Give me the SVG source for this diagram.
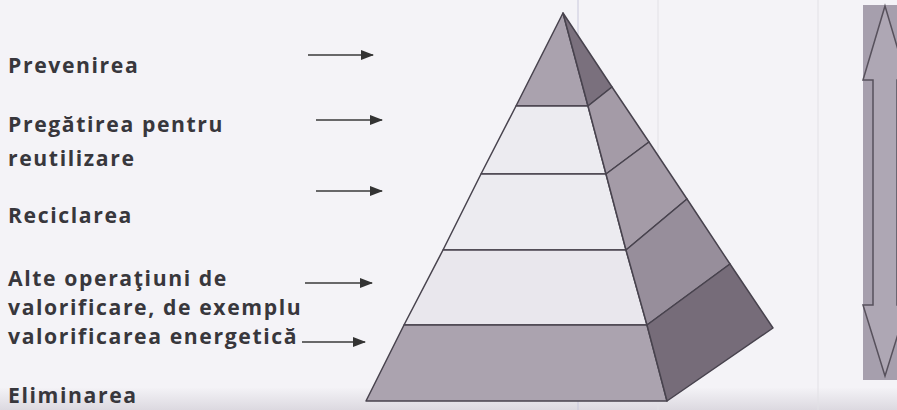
<svg xmlns="http://www.w3.org/2000/svg" width="897" height="410" viewBox="0 0 897 410">
<defs>
<linearGradient id="bottomBand" x1="0" y1="0" x2="0" y2="1">
<stop offset="0" stop-color="#f3f2f6"/>
<stop offset="1" stop-color="#dcd9e0"/>
</linearGradient>
<marker id="head" markerWidth="13" markerHeight="10" refX="12" refY="5" orient="auto" markerUnits="userSpaceOnUse">
<path d="M0,0 L13,5 L0,10 Z" fill="#333"/>
</marker>
<style>
.lbl{font-family:"Open Sans",Lato,"Liberation Sans",sans-serif;font-weight:bold;font-size:21.2px;letter-spacing:1.6px;fill:#38373c}
.face{stroke:#48434e;stroke-width:1.5;stroke-linejoin:round}
.conn{stroke:#3a3a3a;stroke-width:1.6;fill:none;marker-end:url(#head)}
.scan{stroke-width:1;fill:none}
</style>
</defs>
<rect x="0" y="0" width="897" height="410" fill="#f4f3f7"/>
<rect x="0" y="388" width="897" height="22" fill="url(#bottomBand)"/>
<line class="scan" x1="578" y1="0" x2="578" y2="410" stroke="#c9c8dc"/>
<line class="scan" x1="658" y1="0" x2="658" y2="410" stroke="#e2e1e6"/>
<line class="scan" x1="818" y1="0" x2="818" y2="410" stroke="#e2e1e6"/>

<g id="labels">
<text class="lbl" x="8" y="73">Prevenirea</text>
<text class="lbl" x="8" y="132">Pregătirea pentru</text>
<text class="lbl" x="8" y="166">reutilizare</text>
<text class="lbl" x="8" y="223">Reciclarea</text>
<text class="lbl" x="8" y="286">Alte operaţiuni de</text>
<text class="lbl" x="8" y="315">valorificare, de exemplu</text>
<text class="lbl" x="8" y="344">valorificarea energetică</text>
<text class="lbl" x="8" y="403">Eliminarea</text>
</g>

<g id="pyramid">
<g id="layer1">
<polygon class="face" points="563,13 516,106 588,106" fill="#aaa2ae"/>
<polygon class="face" points="563,13 612,87 588,106" fill="#7a707d"/>
</g>
<g id="layer2">
<polygon class="face" points="516,106 588,106 606,174 481,174" fill="#ecebf0"/>
<polygon class="face" points="588,106 612,87 649,142 606,174" fill="#a49ba7"/>
</g>
<g id="layer3">
<polygon class="face" points="481,174 606,174 626,250 443,250" fill="#ecebf0"/>
<polygon class="face" points="606,174 649,142 687,199 626,250" fill="#a49ba7"/>
</g>
<g id="layer4">
<polygon class="face" points="443,250 626,250 647,325 404,325" fill="#e9e7ed"/>
<polygon class="face" points="626,250 687,199 730,264 647,325" fill="#978e9b"/>
</g>
<g id="layer5">
<polygon class="face" points="404,325 647,325 667,401 366,401" fill="#aba3af"/>
<polygon class="face" points="647,325 730,264 773,328 667,401" fill="#766c79"/>
</g>
</g>

<g id="connectors">
<line class="conn" x1="308" y1="55" x2="373" y2="55"/>
<line class="conn" x1="316" y1="120" x2="382" y2="120"/>
<line class="conn" x1="316" y1="191" x2="382" y2="191"/>
<line class="conn" x1="305" y1="283" x2="372" y2="283"/>
<line class="conn" x1="302" y1="342" x2="365" y2="342"/>
</g>

<g id="scale-arrow">
<rect x="863" y="5" width="40" height="375" fill="#a69fad"/>
<polygon points="885,6 907,80 897,80 897,305 907,305 885,376 863,305 873,305 873,80 863,80" fill="#aea7b4" stroke="#57515c" stroke-width="1.5" stroke-linejoin="miter"/>
</g>
</svg>
